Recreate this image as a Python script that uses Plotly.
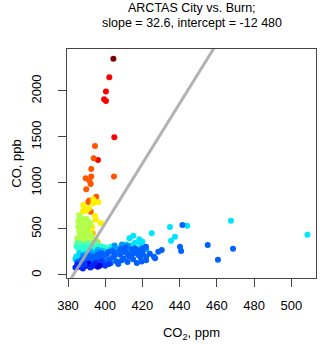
import plotly.graph_objects as go

# Regression parameters (from title)
slope = 32.6
intercept = -12480

# CO2 (ppm), CO (ppb) and colour value (0-1 on a jet scale)
co2 = [
    404.4,
    402.2, 400.4, 399.4, 400.4, 404.9, 396.1,
    394.5, 393.8, 392.5, 404.7, 389.5, 392.5, 391.5, 392.2, 389.8, 395.2, 390.9, 391.5, 392.2,
    390.4, 393.3, 393.3, 395.8,
    393.6, 396.3, 388.6, 391.3, 388.2, 393.6, 390.0, 388.0, 394.5, 397.7, 395.0, 393.0, 392.0,
    386.0, 387.0, 385.5, 388.0, 390.0, 386.0, 388.0, 390.0, 392.0, 385.5, 387.5, 389.5, 391.5,
    386.0, 388.0, 390.0, 392.0, 386.5, 388.5, 390.5, 393.0, 385.0, 387.0, 389.0, 391.0, 395.0,
    385.0, 387.0, 389.0, 391.0, 393.0, 395.0, 384.5, 397.0,
    385.0, 388.0, 390.0, 392.0, 394.0, 396.0, 398.0, 400.0, 402.0, 386.0, 389.0, 403.0,
    405.0, 407.0, 404.0, 409.0, 411.0, 412.0, 414.0, 416.0, 418.3, 415.1, 413.0, 420.0, 419.0,
    425.0, 434.8, 437.5, 435.4, 444.1, 467.6, 508.7,
    384.5, 386.0, 387.5, 384.0, 389.0, 386.0,
    392.0, 395.0, 398.0, 400.0, 403.0, 406.0, 408.0, 393.0, 396.0,
    415.0, 410.0, 406.0, 418.0, 422.0, 400.0, 396.0, 392.0, 388.0, 412.0, 409.0, 405.0,
    441.5, 440.2, 440.8, 430.4, 428.5, 426.2, 426.8, 421.9, 420.2, 417.8, 419.6, 455.1, 468.7, 460.6,
    424.0, 422.0, 418.0, 416.0, 414.0, 413.0, 411.0, 410.0, 408.0, 406.0, 405.0, 404.0, 402.0,
    401.0, 400.0, 399.0, 397.0, 396.0, 395.0, 394.0, 393.0, 392.0, 391.0, 390.0, 389.0, 388.0,
    387.0, 386.0, 385.0, 403.0, 407.0, 409.0, 412.0, 415.0, 417.0, 412.0, 405.0, 398.0, 402.0,
    410.0, 414.0, 419.0, 422.0, 420.0, 416.0, 411.0, 408.0, 404.0,
    386.0, 388.0, 390.0, 392.0, 394.0, 396.0, 398.0, 400.0, 391.0, 395.0, 398.0, 397.0, 393.0,
    389.0, 385.0, 402.0, 384.0, 387.0,
]
co = [
    2351,
    2149, 1993, 1910, 1891, 1497, 1250,
    1402, 1268, 1152, 1069, 1051, 1069, 1025, 989, 931, 851, 793, 808, 688,
    453, 453, 399, 362,
    823, 793, 742, 725, 761, 779, 700, 690, 640, 562, 600, 520, 480,
    650, 620, 590, 600, 610, 560, 540, 560, 570, 520, 500, 510, 530,
    470, 460, 480, 450, 430, 410, 420, 410, 400, 380, 370, 390, 380,
    350, 340, 330, 345, 335, 350, 320, 320,
    300, 310, 295, 305, 290, 300, 310, 300, 290, 280, 275, 310,
    300, 290, 280, 310, 330, 300, 320, 350, 388, 427, 400, 360, 340,
    453, 522, 416, 373, 536, 590, 438,
    200, 215, 190, 170, 230, 240,
    260, 250, 265, 255, 270, 260, 250, 240, 275,
    260, 250, 245, 280, 280, 220, 250, 230, 210, 320, 330, 320,
    543, 308, 261, 272, 253, 199, 181, 308, 290, 217, 145, 326, 286, 166,
    230, 200, 260, 240, 280, 200, 250, 180, 220, 150, 240, 190, 170,
    230, 140, 200, 180, 220, 160, 200, 130, 180, 210, 150, 190, 130,
    160, 120, 140, 130, 120, 160, 140, 170, 130, 230, 210, 240, 250,
    270, 215, 190, 160, 240, 290, 300, 280, 260,
    90, 70, 100, 80, 110, 90, 120, 100, 125, 130, 145, 100, 95,
    115, 110, 120, 80, 105,
]
cval = (
    [1.0]
    + [0.88] * 6
    + [0.79] * 13
    + [0.70] * 4
    + [0.64] * 13
    + [0.55] * 26
    + [0.47] * 8
    + [0.42] * 12
    + [0.35] * 13
    + [0.35] * 7
    + [0.34] * 6
    + [0.31] * 9
    + [0.27] * 12
    + [0.22] * 14
    + [0.22] * 48
    + [0.10, 0.16, 0.10, 0.16, 0.18, 0.10, 0.16, 0.18, 0.10, 0.16,
       0.18, 0.08, 0.16, 0.18, 0.16, 0.18, 0.16, 0.18]
)

title_lines = ["ARCTAS City vs. Burn;", "slope = 32.6, intercept = -12 480"]

jet = [
    [0.0, "rgb(0,0,128)"],
    [0.125, "rgb(0,0,255)"],
    [0.375, "rgb(0,255,255)"],
    [0.625, "rgb(255,255,0)"],
    [0.875, "rgb(255,0,0)"],
    [1.0, "rgb(128,0,0)"],
]

x_range = [379.46, 513.3]
y_range = [-33, 2456]

fig = go.Figure()
fig.add_trace(go.Scatter(
    x=co2, y=co, mode="markers",
    marker=dict(size=6, color=cval, colorscale=jet, cmin=0, cmax=1,
                line=dict(width=0)),
    showlegend=False, hoverinfo="skip",
))
fig.add_trace(go.Scatter(
    x=x_range, y=[slope * v + intercept for v in x_range], mode="lines",
    line=dict(color="rgba(170,170,170,0.9)", width=3),
    showlegend=False, hoverinfo="skip",
))

axis_common = dict(
    showline=True, mirror=True, linecolor="#444", linewidth=1,
    ticks="outside", ticklen=8, tickcolor="#444", tickwidth=1,
    showgrid=False, zeroline=False, automargin=False,
    tickfont=dict(size=13, color="#000"),
)
fig.update_layout(
    width=320, height=344,
    margin=dict(l=67, r=4, t=49, b=66),
    paper_bgcolor="white", plot_bgcolor="white",
    font=dict(family="Liberation Sans, Arial, sans-serif", color="#000"),
    xaxis=dict(range=x_range, tickvals=[380, 400, 420, 440, 460, 480, 500],
               ticklabelstandoff=7,
               title=dict(text="CO<sub>2</sub>, ppm", font=dict(size=13), standoff=16),
               **axis_common),
    yaxis=dict(range=y_range, tickvals=[0, 500, 1000, 1500, 2000], tickangle=-90,
               ticklabelstandoff=12,
               title=dict(text="CO, ppb", font=dict(size=13), standoff=4),
               **axis_common),
    annotations=[
        dict(text=title_lines[0], xref="paper", yref="paper", x=0.5, y=1.177,
             xanchor="center", yanchor="middle", showarrow=False, font=dict(size=12.5)),
        dict(text=title_lines[1], xref="paper", yref="paper", x=0.5, y=1.114,
             xanchor="center", yanchor="middle", showarrow=False, font=dict(size=12.5)),
    ],
)
fig.write_html("out.html", config={"displayModeBar": False},
               post_script="document.body.style.margin='0';")
